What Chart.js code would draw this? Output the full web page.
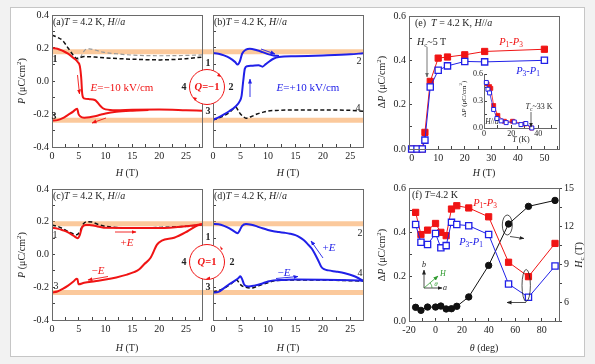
<!DOCTYPE html>
<html>
<head>
<meta charset="utf-8">
<script src="https://cdn.jsdelivr.net/npm/chart.js@4.4.1/dist/chart.umd.min.js"></script>
<style>
html, body { margin: 0; padding: 0; background: #f2f2f2; }
#fig { position: relative; width: 595px; height: 364px; overflow: hidden; font-family: "Liberation Serif", "Times New Roman", serif; }
#frame { position: absolute; left: 10px; top: 7px; width: 573px; height: 348px; background: #fff; border: 1px solid #c6c6c6; }
canvas, svg { position: absolute; left: 0; top: 0; }
.n { position: absolute; white-space: nowrap; line-height: 1; color: #222; font-size: 10px; transform: translate(0, -50%); }
.n.c { transform: translate(-50%, -50%); }
.n.r { transform: translate(-50%, -50%) rotate(-90deg); }
.n sub { font-size: 70%; vertical-align: -2px; line-height: 0; }
.n sup { font-size: 70%; vertical-align: 4px; line-height: 0; }
.red { color: #f01414; }
.blue { color: #2020e8; }
.green { color: #2e9a2e; }
</style>
</head>
<body>
<div id="fig">
  <div id="frame"></div>
  <canvas id="cA" width="595" height="364"></canvas>
  <canvas id="cB" width="595" height="364"></canvas>
  <canvas id="cC" width="595" height="364"></canvas>
  <canvas id="cD" width="595" height="364"></canvas>
  <canvas id="cE" width="595" height="364"></canvas>
  <canvas id="cEi" width="595" height="364"></canvas>
  <canvas id="cF" width="595" height="364"></canvas>
  <svg id="ov" width="595" height="364">
    <defs>
      <marker id="mRed" viewBox="0 0 10 10" refX="9" refY="5" markerUnits="userSpaceOnUse" markerWidth="5" markerHeight="5" orient="auto"><path d="M0,1 L10,5 L0,9 z" fill="#f01414"/></marker>
      <marker id="mBlue" viewBox="0 0 10 10" refX="9" refY="5" markerUnits="userSpaceOnUse" markerWidth="5" markerHeight="5" orient="auto"><path d="M0,1 L10,5 L0,9 z" fill="#2020e8"/></marker>
      <marker id="mBlack" viewBox="0 0 10 10" refX="9" refY="5" markerUnits="userSpaceOnUse" markerWidth="5" markerHeight="5" orient="auto"><path d="M0,1 L10,5 L0,9 z" fill="#222"/></marker>
      <marker id="mGray" viewBox="0 0 10 10" refX="9" refY="5" markerUnits="userSpaceOnUse" markerWidth="5" markerHeight="5" orient="auto"><path d="M0,1 L10,5 L0,9 z" fill="#666"/></marker>
      <marker id="mGreen" viewBox="0 0 10 10" refX="9" refY="5" markerUnits="userSpaceOnUse" markerWidth="5" markerHeight="5" orient="auto"><path d="M0,1 L10,5 L0,9 z" fill="#2e9a2e"/></marker>
    </defs>
    <!-- Q circles -->
    <circle cx="207" cy="87" r="17.5" fill="#fff" stroke="#f01414" stroke-width="1"/>
    <path d="M219,73 l2,4 l-4,-1 z" fill="#f01414"/>
    <path d="M195,101 l-2,-4 l4,1 z" fill="#f01414"/>
    <circle cx="207" cy="262" r="17.5" fill="#fff" stroke="#f01414" stroke-width="1"/>
    <path d="M221,250 l-1,-4 l3,3 z" fill="#f01414"/>
    <path d="M210,279.5 l-4,-1 l4,-2 z" fill="#f01414"/>
    <!-- (a) -->
    <line x1="77.5" y1="75" x2="79.5" y2="94" stroke="#f01414" stroke-width="0.9" marker-end="url(#mRed)"/>
    <line x1="106" y1="118" x2="92" y2="123" stroke="#f01414" stroke-width="0.9" marker-end="url(#mRed)"/>
    <!-- (b) -->
    <line x1="250" y1="97" x2="250" y2="79" stroke="#2020e8" stroke-width="0.9" marker-end="url(#mBlue)"/>
    <line x1="261" y1="49" x2="275" y2="54" stroke="#2020e8" stroke-width="0.9" marker-end="url(#mBlue)"/>
    <!-- (c) -->
    <line x1="115" y1="232" x2="136" y2="232" stroke="#f01414" stroke-width="0.9" marker-end="url(#mRed)"/>
    <line x1="108" y1="276.5" x2="88" y2="280" stroke="#f01414" stroke-width="0.9" marker-end="url(#mRed)"/>
    <!-- (d) -->
    <line x1="323" y1="258" x2="311" y2="241" stroke="#2020e8" stroke-width="0.9" marker-end="url(#mBlue)"/>
    <line x1="276" y1="278.5" x2="298" y2="276.5" stroke="#2020e8" stroke-width="0.9" marker-end="url(#mBlue)"/>
    <!-- (e) -->
    <line x1="427" y1="47" x2="427" y2="77" stroke="#666" stroke-width="0.9" marker-end="url(#mGray)"/>
    <line x1="531" y1="112" x2="531" y2="127" stroke="#222" stroke-width="0.7" marker-end="url(#mBlack)"/>
    <!-- (f) -->
    <ellipse cx="507.3" cy="225" rx="5" ry="10" fill="none" stroke="#222" stroke-width="0.8"/>
    <line x1="510" y1="236.5" x2="524" y2="238.5" stroke="#222" stroke-width="0.8" marker-end="url(#mBlack)"/>
    <ellipse cx="526.2" cy="285.5" rx="4.2" ry="16" fill="none" stroke="#222" stroke-width="0.8"/>
    <line x1="526" y1="302.5" x2="507" y2="302.5" stroke="#222" stroke-width="0.8" marker-end="url(#mBlack)"/>
    <line x1="424" y1="288" x2="424" y2="270" stroke="#222" stroke-width="0.8" marker-end="url(#mBlack)"/>
    <line x1="424" y1="288" x2="442" y2="288" stroke="#222" stroke-width="0.8" marker-end="url(#mBlack)"/>
    <line x1="424" y1="288" x2="438" y2="276" stroke="#2e9a2e" stroke-width="0.8" marker-end="url(#mGreen)"/>
    <path d="M432,288 A8,8 0 0 0 430.1,282.8" fill="none" stroke="#2e9a2e" stroke-width="0.7"/>
  </svg>
  <div id="notes"></div>
</div>
<script>
// panel (a): P vs H, E = -10 kV/cm
const aRedUp = [[0,0.2],[1,0.196],[2,0.183],[3,0.166],[4,0.14],[4.8,0.115],[5.2,0.09],[5.45,0.02],[5.65,-0.08],[5.95,-0.105],[7,-0.11],[8,-0.115],[8.5,-0.13],[9,-0.15],[9.5,-0.165],[10,-0.172],[12,-0.177],[15,-0.174],[20,-0.173],[25,-0.177],[28,-0.18]];
const aRedLow = [[0,-0.24],[1,-0.237],[2,-0.225],[3,-0.205],[4,-0.184],[4.5,-0.17],[4.7,-0.168],[4.95,-0.2],[5.3,-0.215],[6,-0.222],[7,-0.22],[8,-0.214],[9,-0.205],[10,-0.197],[12,-0.187],[15,-0.18],[18,-0.176]];
const aDashBlack = [[0,0.278],[1,0.265],[2,0.245],[3,0.2],[4,0.155],[4.6,0.137],[5.2,0.142],[6,0.148],[8,0.145],[10,0.14],[15,0.132],[20,0.128],[25,0.135],[28,0.145]];
const aDashGray = [[4.3,0.135],[5,0.128],[5.6,0.16],[6.2,0.19],[7,0.195],[8,0.188],[9.5,0.175],[12,0.165],[15,0.157],[20,0.153],[25,0.155],[28,0.158]];

// panel (b): P vs H, E = +10 kV/cm
const bBlueUp = [[0,0.17],[1,0.165],[2,0.155],[3,0.14],[4,0.116],[4.5,0.1],[4.9,0.12],[5.3,0.165],[6,0.19],[6.7,0.196],[8,0.186],[9,0.175],[10,0.163],[11,0.155],[12,0.152]];
const bBlueLow = [[0,-0.235],[1,-0.22],[2,-0.202],[3,-0.182],[4,-0.158],[4.9,-0.12],[5.2,-0.09],[5.5,0.0],[5.8,0.075],[6.2,0.09],[7,0.092],[8.3,0.095],[9,0.087],[9.6,0.102],[10.3,0.12],[11,0.135],[12,0.145],[15,0.15],[20,0.155],[25,0.162],[27.3,0.168]];
const bDash = [[0,-0.235],[1,-0.225],[2,-0.21],[3,-0.19],[3.8,-0.165],[4.2,-0.16],[4.6,-0.18],[5,-0.2],[5.5,-0.215],[6,-0.225],[7,-0.215],[8,-0.2],[9,-0.19],[10,-0.182],[12,-0.178],[15,-0.175],[20,-0.175],[25,-0.178],[27.3,-0.183]];

// panel (c): P vs H, +E then -E
const cRedUp = [[0,0.163],[1,0.158],[2,0.148],[3,0.135],[4,0.115],[4.8,0.1],[5.2,0.12],[5.6,0.165],[6.3,0.18],[7,0.18],[8,0.175],[9,0.168],[10,0.163],[15,0.162],[20,0.162],[22,0.164],[25,0.172],[28,0.185]];
const cRedLow = [[0,-0.232],[1,-0.226],[2,-0.21],[3,-0.19],[4,-0.165],[4.6,-0.148],[4.75,-0.15],[4.95,-0.182],[6,-0.173],[8,-0.163],[10,-0.153],[12,-0.14],[14,-0.123],[15.3,-0.108],[16.3,-0.09],[17.2,-0.06],[18.4,-0.02],[19.6,0.06],[20.5,0.085],[22.8,0.102],[25.3,0.142],[27.2,0.178],[28,0.186]];
const cDash = [[0,0.18],[1,0.172],[2,0.158],[3,0.14],[4,0.125],[4.6,0.12],[5.2,0.14],[5.8,0.185],[6.5,0.2],[7.5,0.198],[8.5,0.185],[10,0.172],[12,0.165],[15,0.163],[20,0.165],[25,0.172],[28,0.182]];

// panel (d): P vs H, +E then -E
const dBlueUp = [[0,0.187],[1,0.185],[2,0.175],[3,0.16],[4,0.138],[4.5,0.13],[4.9,0.15],[5.3,0.175],[6,0.187],[7,0.182],[8,0.172],[9,0.16],[10,0.15],[11,0.142],[12,0.138],[13,0.133],[14,0.127],[15,0.118],[15.8,0.105],[16.5,0.088],[17.2,0.065],[18,0.035],[18.6,0.0],[19.2,-0.04],[19.7,-0.075],[20.2,-0.09],[21,-0.097],[22.5,-0.105],[24,-0.115],[25.5,-0.13],[26.5,-0.145],[27.3,-0.16]];
const dBlueLow = [[0,-0.232],[1,-0.228],[2,-0.205],[3,-0.18],[4,-0.16],[4.6,-0.145],[5,-0.133],[5.3,-0.15],[5.7,-0.185],[6.5,-0.195],[7.5,-0.19],[9,-0.177],[10,-0.165],[11,-0.158],[13,-0.155],[15,-0.153],[20,-0.154],[25,-0.157],[27.3,-0.16]];
const dDash = [[0,-0.23],[2,-0.207],[3,-0.185],[3.8,-0.165],[4.3,-0.155],[4.7,-0.17],[5.2,-0.19],[6,-0.2],[7,-0.205],[8,-0.195],[9,-0.183],[10,-0.172],[11,-0.162],[13,-0.157],[15,-0.155],[20,-0.156],[25,-0.16],[27.3,-0.162]];

// reference levels (orange bands)
const bandHigh = 0.178;
const bandLow = -0.238;
const bandHighCD = 0.188;
const bandLowCD = -0.232;

// panel (e): delta P vs H
const eField = [0, 2, 4, 5, 7, 10, 13.5, 20, 27.5, 50];
const eP13 = [0, 0, 0, 0.075, 0.305, 0.41, 0.415, 0.425, 0.44, 0.45];
const eP31 = [0, 0, 0, 0.04, 0.28, 0.355, 0.375, 0.395, 0.393, 0.4];

// inset of (e): delta P vs T
const insTRed = [2.3, 4.1, 5, 7.1, 10.2, 15, 21, 30, 35];
const insPRed = [0.49, 0.46, 0.44, 0.25, 0.14, 0.075, 0.075, 0.045, 0.0];
const insTBlue = [1.7, 2.9, 4.1, 7.1, 9.5, 12.6, 16.3, 22.3, 27.2, 30.8, 35.2];
const insPBlue = [0.506, 0.43, 0.39, 0.206, 0.105, 0.079, 0.06, 0.067, 0.038, 0.05, 0.0];

// panel (f): delta P and Hc vs theta
const fTheta = [-15, -11, -6, 0, 4, 8, 12, 16, 25, 40, 55, 70, 90];
const fP13 = [0.49, 0.39, 0.41, 0.44, 0.40, 0.385, 0.505, 0.52, 0.51, 0.47, 0.265, 0.2, 0.35];
const fP31 = [0.435, 0.355, 0.345, 0.395, 0.33, 0.34, 0.445, 0.435, 0.43, 0.39, 0.167, 0.107, 0.248];
const fHc = [5.58, 5.34, 5.6, 5.6, 5.68, 5.45, 5.47, 5.66, 6.4, 8.89, 12.16, 13.55, 14.02];

const RED = "#f01414";
const BLUE = "#2020e8";
const ORANGE = "rgba(248,168,96,0.62)";
const W = 595, H = 364;

Chart.defaults.font.family = '"Liberation Serif", "Times New Roman", serif';
Chart.defaults.font.size = 10;
Chart.defaults.color = "#222";

function pts(list) {
  return list.map(function (p) { return { x: p[0], y: p[1] }; });
}
function zip(xs, ys) {
  return xs.map(function (x, i) { return { x: x, y: ys[i] }; });
}

function tickFmt(major, digits) {
  return function (v) {
    const r = v / major;
    return Math.abs(r - Math.round(r)) < 1e-6 ? v.toFixed(digits) : "";
  };
}

function scale(pos, min, max, step, major, digits, size, opts) {
  opts = opts || {};
  return {
    type: "linear",
    position: pos,
    min: min,
    max: max,
    afterFit: function (s) {
      if (pos === "bottom") s.height = size; else s.width = size;
    },
    border: { display: !!opts.border, color: "#666" },
    grid: { drawOnChartArea: false, tickLength: opts.tl || -3, tickColor: "#444" },
    ticks: {
      stepSize: step,
      includeBounds: false,
      autoSkip: false,
      maxRotation: 0,
      padding: opts.pad || 6,
      display: opts.labels !== false,
      font: { size: opts.fs || 10 },
      callback: tickFmt(major, digits),
    },
  };
}

// chart area frame
const frameBox = {
  id: "frameBox",
  afterDatasetsDraw: function (chart, args, opts) {
    if (opts.off) return;
    const a = chart.chartArea;
    const c = chart.ctx;
    c.save();
    c.strokeStyle = "#6a6a6a";
    c.lineWidth = 1;
    c.strokeRect(Math.round(a.left) + 0.5, Math.round(a.top) + 0.5, Math.round(a.right - a.left), Math.round(a.bottom - a.top));
    c.restore();
  },
};

function curve(data, color, width, order) {
  return { data: pts(data), borderColor: color, borderWidth: width, pointRadius: 0, cubicInterpolationMode: "monotone", order: order || 0 };
}
function dashed(data, color, width) {
  return { data: pts(data), borderColor: color, borderWidth: width, borderDash: [4, 2.5], pointRadius: 0, cubicInterpolationMode: "monotone", order: 5 };
}
function band(y, x0, x1, clipRight) {
  return { data: [{ x: x0, y: y }, { x: x1, y: y }], borderColor: ORANGE, borderWidth: 5, pointRadius: 0, order: 10, clip: { left: 0, top: 0, right: clipRight, bottom: 0 } };
}

function makePanel(id, area, scales, datasets, extra) {
  extra = extra || {};
  const yw = extra.yw || 30, xh = extra.xh || 24, rw = extra.rw || 0;
  return new Chart(document.getElementById(id).getContext("2d"), {
    type: "line",
    data: { datasets: datasets },
    options: {
      responsive: false,
      animation: false,
      devicePixelRatio: 1,
      layout: {
        autoPadding: false,
        padding: { left: area.l - yw, top: area.t, right: W - area.r - rw, bottom: H - area.b - xh },
      },
      plugins: { legend: { display: false }, tooltip: { enabled: false }, frameBox: { off: !!extra.noBox } },
      scales: scales,
    },
    plugins: [frameBox],
  });
}

// (a)
makePanel("cA", { l: 52, t: 15, r: 202, b: 147 }, {
  x: scale("bottom", 0, 28, 2.5, 5, 0, 24),
  y: scale("left", -0.4, 0.4, 0.1, 0.2, 1, 30),
}, [
  curve(aRedUp, RED, 2),
  curve(aRedLow, RED, 2),
  dashed(aDashBlack, "#111", 1.5),
  dashed(aDashGray, "#9a9a9a", 1.2),
  band(bandHigh, 0, 30, 11),
  band(bandLow, 0, 30, 11),
]);

// (b)
makePanel("cB", { l: 213, t: 15, r: 363, b: 147 }, {
  x: scale("bottom", 0, 27.3, 2.5, 5, 0, 24),
  y: scale("left", -0.4, 0.4, 0.1, 0.2, 1, 30, { labels: false }),
}, [
  curve(bBlueUp, BLUE, 2),
  curve(bBlueLow, BLUE, 2),
  dashed(bDash, "#111", 1.5),
  band(bandHigh, 0, 27.3, 0),
  band(bandLow, 0, 27.3, 0),
]);

// (c)
makePanel("cC", { l: 52, t: 189, r: 202, b: 320 }, {
  x: scale("bottom", 0, 28, 2.5, 5, 0, 24),
  y: scale("left", -0.4, 0.4, 0.1, 0.2, 1, 30),
}, [
  curve(cRedUp, RED, 2),
  curve(cRedLow, RED, 2),
  dashed(cDash, "#111", 1.5),
  band(bandHighCD, 0, 30, 11),
  band(bandLowCD, 0, 30, 11),
]);

// (d)
makePanel("cD", { l: 213, t: 189, r: 363, b: 320 }, {
  x: scale("bottom", 0, 27.3, 2.5, 5, 0, 24),
  y: scale("left", -0.4, 0.4, 0.1, 0.2, 1, 30, { labels: false }),
}, [
  curve(dBlueUp, BLUE, 2),
  curve(dBlueLow, BLUE, 2),
  dashed(dDash, "#111", 1.5),
  band(bandHighCD, 0, 27.3, 0),
  band(bandLowCD, 0, 27.3, 0),
]);

// (e)
makePanel("cE", { l: 409, t: 16, r: 559, b: 149 }, {
  x: scale("bottom", -1, 55.5, 5, 10, 0, 24),
  y: scale("left", 0, 0.6, 0.1, 0.2, 1, 30),
}, [
  { data: zip(eField, eP31), borderColor: BLUE, borderWidth: 1, pointStyle: "rect", pointRadius: 4.4, pointBackgroundColor: "#fff", pointBorderColor: BLUE, pointBorderWidth: 1.3, clip: false, order: 0 },
  { data: zip(eField, eP13), borderColor: RED, borderWidth: 1, pointStyle: "rect", pointRadius: 4.4, pointBackgroundColor: RED, pointBorderColor: RED, clip: false, order: 1 },
]);

// inset of (e)
makePanel("cEi", { l: 484, t: 74, r: 556, b: 128 }, {
  x: scale("bottom", 0, 53, 10, 20, 0, 14, { border: true, fs: 8, pad: 4 }),
  y: scale("left", 0, 0.6, 0.15, 0.3, 1, 16, { border: true, fs: 8, pad: 4 }),
}, [
  { data: zip(insTBlue, insPBlue), borderColor: BLUE, borderWidth: 0.8, pointStyle: "rect", pointRadius: 2.8, pointBackgroundColor: "#fff", pointBorderColor: BLUE, pointBorderWidth: 1, clip: false, order: 0 },
  { data: zip(insTRed, insPRed), borderColor: RED, borderWidth: 0.8, pointStyle: "rect", pointRadius: 2.8, pointBackgroundColor: RED, pointBorderColor: RED, clip: false, order: 1 },
], { yw: 16, xh: 14, noBox: true });

// (f)
makePanel("cF", { l: 409, t: 188, r: 559, b: 321 }, {
  x: scale("bottom", -20, 93, 10, 20, 0, 24),
  y: scale("left", 0, 0.6, 0.1, 0.2, 1, 30),
  y2: scale("right", 4.5, 15, 1.5, 3, 0, 22, { tl: 3, pad: 2 }),
}, [
  { data: zip(fTheta, fP31), borderColor: BLUE, borderWidth: 1, pointStyle: "rect", pointRadius: 4.4, pointBackgroundColor: "#fff", pointBorderColor: BLUE, pointBorderWidth: 1.3, yAxisID: "y", clip: false, order: 0 },
  { data: zip(fTheta, fP13), borderColor: RED, borderWidth: 1, pointStyle: "rect", pointRadius: 4.4, pointBackgroundColor: RED, pointBorderColor: RED, yAxisID: "y", clip: false, order: 1 },
  { data: zip(fTheta, fHc), borderColor: "#111", borderWidth: 1, pointStyle: "circle", pointRadius: 3.2, pointBackgroundColor: "#111", pointBorderColor: "#111", yAxisID: "y2", clip: false, order: 2 },
], { rw: 22 });

// text labels: [html, x, y, kind, extra class, font size]
const T42 = "<i>T</i> = 4.2 K, <i>H</i>//<i>a</i>";
const PUNIT = "<i>P</i> (μC/cm<sup>2</sup>)";
const notes = [
  ["(a)" + T42, 53, 22, "", "", 10],
  ["(b)" + T42, 214, 22, "", "", 10],
  ["(c)" + T42, 53, 196, "", "", 10],
  ["(d)" + T42, 214, 196, "", "", 10],
  ["(e)&nbsp; " + T42, 415, 23, "", "", 10],
  ["(f) <i>T</i>=4.2 K", 412, 195, "", "", 10],
  ["<i>E</i>=−10 kV/cm", 122, 87, "c", "red", 11],
  ["<i>E</i>=+10 kV/cm", 308, 87, "c", "blue", 11],
  ["<b><i>Q</i>=−1</b>", 207, 87, "c", "red", 10.5],
  ["<b><i>Q</i>=1</b>", 207, 262, "c", "red", 10.5],
  ["<b>1</b>", 55, 59, "c", "", 10], ["<b>3</b>", 54, 116, "c", "", 10], ["<b>4</b>", 184, 87, "c", "", 10],
  ["<b>1</b>", 208, 63, "c", "", 10], ["<b>3</b>", 208, 111, "c", "", 10], ["<b>2</b>", 231, 87, "c", "", 10],
  ["2", 359, 61, "c", "", 10], ["4", 358, 108, "c", "", 10],
  ["1", 55, 235, "c", "", 10], ["3", 56, 286, "c", "", 10], ["<b>4</b>", 184, 262, "c", "", 10],
  ["<b>1</b>", 208, 237, "c", "", 10], ["<b>3</b>", 208, 287, "c", "", 10], ["<b>2</b>", 232, 262, "c", "", 10],
  ["2", 360, 233, "c", "", 10], ["4", 360, 273, "c", "", 10],
  ["+<i>E</i>", 127, 242, "c", "red", 11], ["−<i>E</i>", 98, 270, "c", "red", 11],
  ["+<i>E</i>", 329, 247, "c", "blue", 11], ["−<i>E</i>", 284, 272, "c", "blue", 11],
  ["<i>H</i><sub>c</sub>~5 T", 417, 42, "", "", 10],
  ["<i>P</i><sub>1</sub>-<i>P</i><sub>3</sub>", 511, 42, "c", "red", 10.5],
  ["<i>P</i><sub>3</sub>-<i>P</i><sub>1</sub>", 528, 71, "c", "blue", 10.5],
  ["Δ<i>P</i> (μC/cm<sup>2</sup>)", 464, 99, "r", "", 7],
  ["<i>T</i> (K)", 521, 140, "c", "", 8],
  ["<i>H</i>//<i>a</i>", 492, 122, "c", "", 7.5],
  ["<i>T</i><sub>c</sub>~33 K", 539, 107, "c", "", 8],
  ["<i>P</i><sub>1</sub>-<i>P</i><sub>3</sub>", 485, 203, "c", "red", 10.5],
  ["<i>P</i><sub>3</sub>-<i>P</i><sub>1</sub>", 471, 242, "c", "blue", 10.5],
  ["<i>b</i>", 424, 265, "c", "", 8], ["<i>a</i>", 445, 288, "c", "", 8],
  ["<i>H</i>", 443, 274, "c", "green", 8], ["<i>θ</i>", 436, 284, "c", "green", 7],
  [PUNIT, 22, 81, "r", "", 10], [PUNIT, 22, 255, "r", "", 10],
  ["Δ" + PUNIT, 382, 82, "r", "", 10], ["Δ" + PUNIT, 382, 255, "r", "", 10],
  ["<i>H</i><sub>c</sub> (T)", 579, 255, "r", "", 10],
  ["<i>H</i> (T)", 127, 173, "c", "", 10], ["<i>H</i> (T)", 288, 173, "c", "", 10],
  ["<i>H</i> (T)", 484, 173, "c", "", 10],
  ["<i>H</i> (T)", 127, 348, "c", "", 10], ["<i>H</i> (T)", 288, 348, "c", "", 10],
  ["<i>θ</i> (deg)", 484, 348, "c", "", 10],
];

const box = document.getElementById("notes");
notes.forEach(function (n) {
  const d = document.createElement("div");
  d.className = "n " + n[3] + " " + n[4];
  d.innerHTML = n[0];
  d.style.left = n[1] + "px";
  d.style.top = n[2] + "px";
  d.style.fontSize = n[5] + "px";
  box.appendChild(d);
});
</script>
</body>
</html>
